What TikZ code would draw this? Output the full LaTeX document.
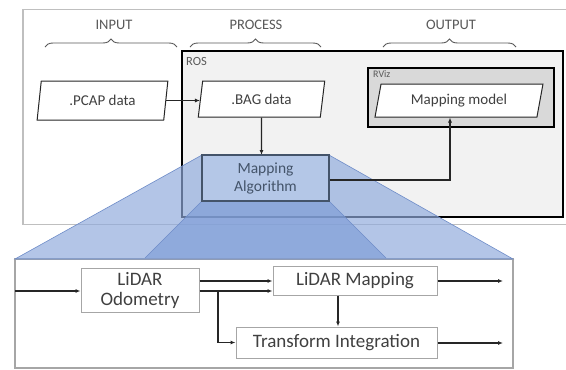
\documentclass[tikz,border=0pt]{standalone}
\usepackage{fontspec}
\setmainfont{Carlito}
\usetikzlibrary{shapes.geometric,arrows.meta,decorations.pathreplacing}
\definecolor{txtgray}{RGB}{64,64,64}
\definecolor{lblgray}{RGB}{89,89,89}
\definecolor{rosfill}{RGB}{242,242,242}
\definecolor{rvizfill}{RGB}{217,217,217}
\definecolor{frame}{RGB}{191,191,191}
\definecolor{boxgray}{RGB}{166,166,166}
\definecolor{blueA}{RGB}{143,170,220}
\definecolor{blueB}{RGB}{126,157,215}
\definecolor{blueEdge}{RGB}{110,140,200}
\definecolor{algfill}{RGB}{180,199,231}
\definecolor{algedge}{RGB}{68,84,106}
\definecolor{algtext}{RGB}{68,84,106}
\begin{document}
\begin{tikzpicture}[x=1pt,y=-1pt,
  para/.style={shape=trapezium, trapezium left angle=78, trapezium right angle=102,
    trapezium stretches=true, draw=black!85, line width=1pt, fill=white, inner sep=0pt,
    font=\fontsize{15}{17}\selectfont, text=txtgray},
  lbl/.style={font=\fontsize{14.5}{16}\selectfont, text=lblgray, inner sep=0pt},
  brc/.style={draw=lblgray, line width=0.9pt, decorate, decoration={brace, amplitude=8pt}},
  arr/.style={draw=black!85, line width=1.1pt, -{Latex[length=5pt,width=4pt]}},
  lowbox/.style={draw=boxgray, line width=1pt, fill=white, inner sep=0pt,
    font=\fontsize{19}{20}\selectfont, text=txtgray, align=center}]
\useasboundingbox (0,0) rectangle (566,370);
% outer frame
\node[draw=frame, line width=1.2pt, fill=white, minimum width=546pt, minimum height=215pt, inner sep=0pt] (frm) at (296,117) {};
% labels and braces
\node[lbl] (tin) at (114,25) {INPUT};
\node[lbl] (tpr) at (256,25) {PROCESS};
\node[lbl] (tout) at (451,25) {OUTPUT};
\draw[brc] (45,47) -- (177,47);
\draw[brc] (190,47) -- (321,47);
\draw[brc] (383,47) -- (516,47);
% ROS box
\node[draw=black, line width=2.4pt, fill=rosfill, minimum width=381pt, minimum height=166pt, inner sep=0pt] (ros) at (372.5,134) {};
\node[font=\fontsize{12.5}{14}\selectfont, text=lblgray, anchor=north west, inner sep=0pt] (roslbl) at (186,57) {ROS};
% RViz box
\node[draw=black, line width=2.4pt, fill=rvizfill, minimum width=186pt, minimum height=59pt, inner sep=0pt] (rviz) at (461,97.5) {};
\node[font=\fontsize{10}{11}\selectfont, text=lblgray, anchor=north west, inner sep=0pt] (rvizlbl) at (373,70) {RViz};
% parallelograms
\node[para, minimum width=131pt, minimum height=39pt] (pcap) at (102.5,100.5) {.PCAP data};
\node[para, minimum width=127pt, minimum height=36pt] (bag) at (261.5,99) {.BAG data};
\node[para, minimum width=168pt, minimum height=33pt, trapezium left angle=74, trapezium right angle=106] (model) at (459,100.5) {Mapping model};
\draw[arr] (pcap.east) -- (pcap.east -| bag.west);
\draw[arr] (bag.south) -- (261.5,155);
% lower box
\node[draw=boxgray, line width=1.1pt, fill=white, minimum width=498pt, minimum height=109pt, inner sep=0pt] (zoom) at (264,313.5) {};
% trapezoids
\coordinate (t1) at (202,155);
\coordinate (t2) at (329,155);
\coordinate (t3) at (513,259);
\coordinate (t4) at (15,259);
\fill[blueA, fill opacity=0.68] (t1) -- (t2) -- (t3) -- (t4) -- cycle;
\draw[blueEdge, line width=0.6pt] (t1) -- (t4) -- (t3) -- (t2);
\coordinate (u1) at (202,201);
\coordinate (u2) at (329,201);
\coordinate (u3) at (386,258);
\coordinate (u4) at (145,258);
\fill[blueB, fill opacity=0.68] (u1) -- (u2) -- (u3) -- (u4) -- cycle;
\draw[blueEdge, line width=0.6pt] (u2) -- (u3) (u1) -- (u4);
% mapping algorithm
\node[draw=algedge, line width=1.3pt, fill=algfill, minimum width=127pt, minimum height=46pt, inner sep=0pt,
  font=\fontsize{15.5}{18}\selectfont, text=algtext, align=center] (alg) at (265.5,178) {Mapping\\Algorithm};
\draw[arr] ([yshift=-2pt]alg.east) -| ([xshift=-9pt]model.south);
% lower contents
\node[lowbox, minimum width=118pt, minimum height=44pt] (odo) at (140,290) {LiDAR\\Odometry};
\node[lowbox, minimum width=164pt, minimum height=29pt] (map) at (355,280.5) {LiDAR Mapping};
\node[lowbox, minimum width=201pt, minimum height=31pt] (trans) at (336.5,342.5) {Transform Integration};
\coordinate (inp) at (15,291);
\coordinate (br) at (218,291);
\coordinate (mv) at (338,0);
\coordinate (o1) at (503,281);
\coordinate (o2) at (503,343);
\draw[arr] (inp) -- (odo.west |- inp);
\draw[arr] (odo.east |- o1) -- (map.west |- o1);
\draw[arr] (odo.east |- inp) -- (map.west |- inp);
\draw[arr] (br) |- (trans.west);
\draw[arr] (map.south -| mv) -- (trans.north -| mv);
\draw[arr] (map.east |- o1) -- (o1);
\draw[arr] (trans.east |- o2) -- (o2);
\end{tikzpicture}
\end{document}
